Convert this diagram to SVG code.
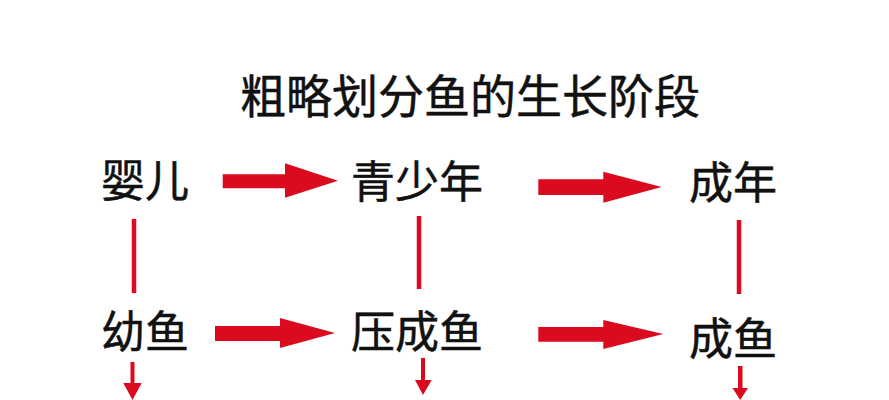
<svg xmlns="http://www.w3.org/2000/svg" width="889" height="400" viewBox="0 0 889 400">
<style>
.t{font-family:"Noto Sans CJK SC","Noto Sans CJK JP",sans-serif;font-size:44px;fill:#111;stroke:#111;stroke-width:0.5;text-anchor:middle}
.title{font-size:46px}
.a{fill:#dc0a1e}
.l{stroke:#dc0a1e;stroke-width:4.5;fill:none}
</style>
<rect width="889" height="400" fill="#fff"/>
<text class="t title" x="470" y="113">粗略划分鱼的生长阶段</text>
<g id="n-yinger"><text class="t" x="145" y="197">婴儿</text></g>
<g id="n-qingshaonian"><text class="t" x="417" y="198">青少年</text></g>
<g id="n-chengnian"><text class="t" x="733" y="199">成年</text></g>
<g id="n-youyu"><text class="t" x="145" y="348">幼鱼</text></g>
<g id="n-yachengyu"><text class="t" x="417" y="348">压成鱼</text></g>
<g id="n-chengyu"><text class="t" x="733" y="355">成鱼</text></g>
<g id="connectors">
<polygon class="a" points="222.7,174.3 285,174.3 285,163.3 338,180.7 285,197.7 285,188.3 222.7,188.3"/>
<polygon class="a" points="538.3,179.3 603.3,179.3 603.3,171.7 661.7,187 603.3,202.7 603.3,195 538.3,195"/>
<polygon class="a" points="215,326 280,326 280,318 335,333 280,348 280,341 215,341"/>
<polygon class="a" points="538.3,327 603.3,327 603.3,320 663.3,334 603.3,349 603.3,341.7 538.3,341.7"/>
<line class="l" x1="134" y1="219" x2="134" y2="293"/>
<line class="l" x1="419" y1="216" x2="419" y2="289"/>
<line class="l" x1="739" y1="220" x2="739" y2="294"/>
<polygon class="a" points="130.5,362 134.5,362 134.5,383 141.7,383 132.5,400 123.3,383 130.5,383"/>
<polygon class="a" points="421,358 425,358 425,380 431.7,380 423,395 415,380 421,380"/>
<polygon class="a" points="738,366 742.5,366 742.5,388 748,388 740.2,400 732.5,388 738,388"/>
</g>
</svg>
